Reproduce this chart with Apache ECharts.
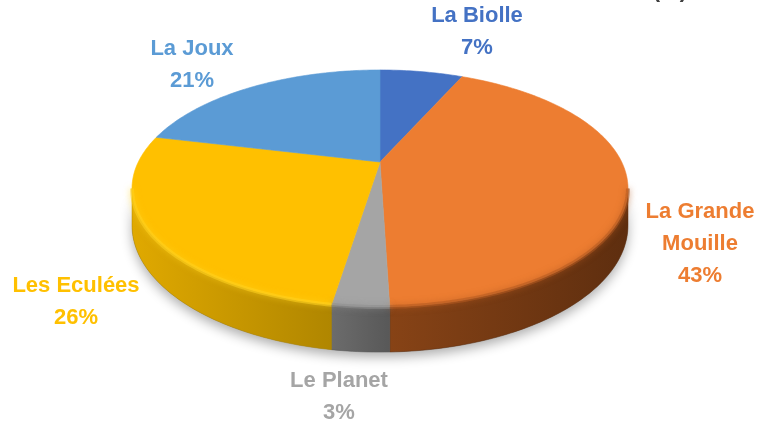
<!DOCTYPE html>
<html><head><meta charset="utf-8">
<script src="https://cdn.jsdelivr.net/npm/echarts@6/dist/echarts.min.js"></script>
<style>html,body{margin:0;padding:0;background:#fff}#c{width:759px;height:424px}</style>
</head><body><div id="c"></div>
<script>
// ---- data ----
const categories = ['La Biolle', 'La Grande Mouille', 'Le Planet', 'Les Eculées', 'La Joux'];
const labelNames = ['La Biolle', 'La Grande\nMouille', 'Le Planet', 'Les Eculées', 'La Joux'];
const values = [6.7, 42.8, 3.0, 26.2, 21.3];

// ---- style / layout ----
const topColors = ['#4472C4', '#ED7D31', '#A5A5A5', '#FFC000', '#5B9BD5'];
const sideStops = [
  ['#2f5597', '#24477f'],
  ['#874316', '#5e2e0f'],
  ['#6c6c6c', '#585858'],
  ['#e0a900', '#b08600'],
  ['#3f7ab5', '#2f6296']
];
const bevelColors = ['#3a64b0', '#b35a20', '#8e8e8e', '#ffd21f', '#5b9bd5'];
const labelPos = [[477, 32], [700, 244], [339, 397], [76, 302], [192, 65]];
const CX = 380, CY = 162, A = 241.7, B = 112.6, P = 0.2236, H = 35;
const TL = Math.acos(-P) * 180 / Math.PI, TR = 360 - TL;

function proj(deg, drop) {
  const t = deg * Math.PI / 180;
  const X = Math.sin(t), Z = Math.cos(t);
  const w = 1 + P * Z;
  return [CX + A * X / w, CY - B * Z / w + (drop || 0) / w];
}
function arc(a0, a1, drop) {
  const pts = [];
  const n = Math.max(2, Math.ceil(Math.abs(a1 - a0)));
  for (let k = 0; k <= n; k++) pts.push(proj(a0 + (a1 - a0) * k / n, drop));
  return pts;
}
function wall(a0, a1) {
  return arc(a0, a1, 0).concat(arc(a1, a0, H));
}

const total = values.reduce((s, v) => s + v, 0);
let acc = 0;
const rows = values.map((v, i) => {
  const s = acc / total; acc += v;
  return [v, s, acc / total];
});

const chart = echarts.init(document.getElementById('c'), null, {renderer: 'canvas'});
chart.setOption({
  animation: false,
  backgroundColor: '#ffffff',
  graphic: [{
    type: 'text', right: 72, top: -20,
    style: {text: '(%)', font: 'bold 22px "Liberation Sans"', fill: '#404040'}
  }],
  series: [{
    type: 'custom',
    name: 'Répartition',
    coordinateSystem: 'none',
    data: rows,
    renderItem: function (params, api) {
      const i = params.dataIndex;
      const th0 = api.value(1) * 360, th1 = api.value(2) * 360;
      const children = [];
      if (i === 0) {
        children.push({
          type: 'polygon', z2: 0,
          shape: {points: wall(TL, TR)},
          style: {fill: '#888', shadowColor: 'rgba(0,0,0,0.32)', shadowBlur: 12, shadowOffsetY: 5}
        });
      }
      const a0 = Math.max(th0, TL), a1 = Math.min(th1, TR);
      if (a1 > a0) {
        children.push({
          type: 'polygon', z2: 1,
          shape: {points: wall(a0, a1)},
          style: {
            fill: {type: 'linear', x: 0, y: 0, x2: 1, y2: 0,
              colorStops: [{offset: 0, color: sideStops[i][0]}, {offset: 1, color: sideStops[i][1]}]},
            stroke: sideStops[i][1], lineWidth: 0.5
          }
        });
      }
      children.push({
        type: 'polygon', z2: 2,
        shape: {points: [[CX, CY]].concat(arc(th0, th1, 0))},
        style: {fill: topColors[i], stroke: topColors[i], lineWidth: 0.6}
      });
      if (a1 > a0) {
        children.push({
          type: 'polyline', z2: 2.5, silent: true,
          shape: {points: arc(a0, a1, 0)},
          style: {fill: 'none', stroke: bevelColors[i], lineWidth: 4, opacity: 0.55,
            shadowColor: bevelColors[i], shadowBlur: 6}
        });
      }
      const pct = Math.round(api.value(0) / total * 100);
      children.push({
        type: 'text', z2: 3,
        x: labelPos[i][0], y: labelPos[i][1],
        style: {
          text: labelNames[i] + '\n' + pct + '%',
          fill: topColors[i],
          font: 'bold 22px "Liberation Sans"',
          lineHeight: 32,
          align: 'center', verticalAlign: 'middle'
        }
      });
      return {type: 'group', children: children};
    }
  }]
});
</script>
</body></html>
